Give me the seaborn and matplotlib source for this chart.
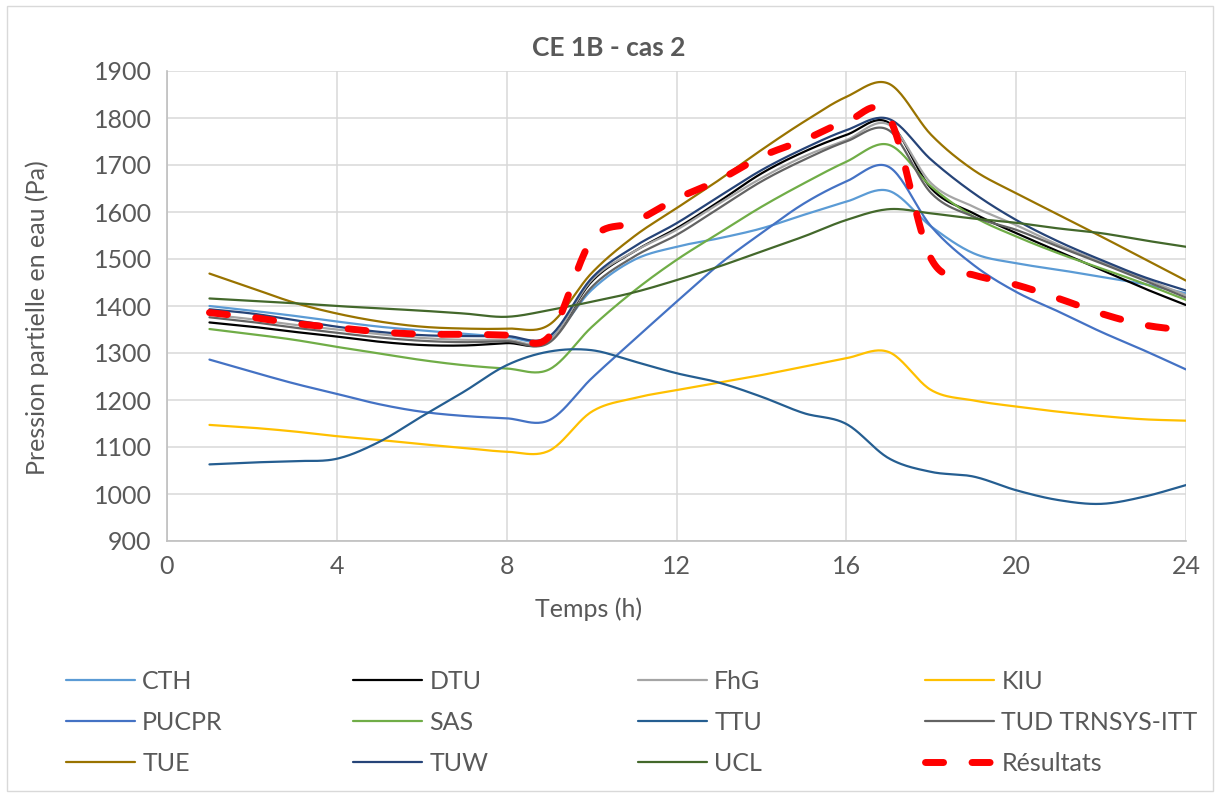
import numpy as np
import pandas as pd
import matplotlib
matplotlib.use("Agg")
import matplotlib.pyplot as plt
import seaborn as sns
from matplotlib.lines import Line2D
from matplotlib.patches import Rectangle

# hourly values (Pa)
hours = list(range(1, 25))

cth = [1400, 1390, 1379, 1367, 1356, 1348, 1341, 1334, 1330, 1434, 1498, 1526,
       1544, 1565, 1594, 1622, 1645, 1569, 1512, 1491, 1477, 1462, 1447, 1427]
dtu = [1365, 1356, 1345, 1335, 1324, 1317, 1316, 1321, 1325, 1452, 1516, 1565,
       1622, 1682, 1728, 1764, 1790, 1650, 1597, 1555, 1516, 1477, 1438, 1402]
fhg = [1382, 1372, 1360, 1350, 1340, 1332, 1328, 1328, 1326, 1455, 1516, 1562,
       1618, 1672, 1718, 1753, 1786, 1661, 1611, 1572, 1530, 1494, 1459, 1423]
kiu = [1147, 1141, 1133, 1123, 1115, 1106, 1098, 1090, 1092, 1175, 1204, 1221,
       1237, 1253, 1271, 1289, 1302, 1221, 1199, 1186, 1175, 1166, 1159, 1156]
pucpr = [1286, 1260, 1235, 1213, 1191, 1175, 1166, 1161, 1157, 1246, 1328, 1409,
         1488, 1555, 1618, 1665, 1696, 1569, 1487, 1430, 1388, 1345, 1306, 1265]
sas = [1351, 1340, 1328, 1313, 1299, 1285, 1274, 1267, 1265, 1355, 1432, 1498,
       1555, 1611, 1661, 1707, 1743, 1654, 1590, 1548, 1512, 1480, 1448, 1413]
ttu = [1063, 1067, 1070, 1075, 1111, 1165, 1218, 1274, 1303, 1306, 1282, 1257,
       1237, 1207, 1172, 1149, 1076, 1047, 1037, 1008, 987, 979, 994, 1019]
tud = [1376, 1366, 1354, 1343, 1333, 1326, 1323, 1325, 1322, 1440, 1505, 1551,
       1608, 1665, 1711, 1750, 1774, 1640, 1590, 1562, 1526, 1491, 1455, 1418]
tue = [1469, 1438, 1407, 1384, 1367, 1356, 1352, 1352, 1360, 1470, 1548, 1608,
       1668, 1732, 1792, 1845, 1873, 1764, 1689, 1640, 1594, 1548, 1501, 1454]
tuw = [1393, 1384, 1370, 1356, 1345, 1338, 1336, 1336, 1335, 1459, 1526, 1576,
       1633, 1689, 1735, 1774, 1798, 1711, 1640, 1583, 1537, 1498, 1462, 1433]
ucl = [1416, 1411, 1406, 1400, 1395, 1390, 1384, 1377, 1391, 1409, 1429, 1455,
       1484, 1516, 1548, 1583, 1606, 1597, 1586, 1577, 1565, 1555, 1540, 1526]
resultats = [1386, 1376, 1363, 1354, 1345, 1340, 1340, 1338, 1335, 1540, 1578, 1628,
             1668, 1718, 1753, 1792, 1802, 1500, 1466, 1445, 1416, 1384, 1360, 1348]

labels = ["CTH", "DTU", "FhG", "KIU", "PUCPR", "SAS", "TTU", "TUD TRNSYS-ITT",
          "TUE", "TUW", "UCL", "Résultats"]
series = [cth, dtu, fhg, kiu, pucpr, sas, ttu, tud, tue, tuw, ucl, resultats]
colors = ["#5B9BD5", "#000000", "#A5A5A5", "#FFC000", "#4472C4", "#70AD47",
          "#255E91", "#636363", "#997300", "#264478", "#43682B", "#FF0000"]


def smooth(x, y, n=24):
    # excel-like smoothed line (cubic hermite, central tangents)
    x = np.asarray(x, float)
    y = np.asarray(y, float)
    m = np.gradient(y, x)
    xs, ys = [], []
    for i in range(len(x) - 1):
        t = np.linspace(0, 1, n, endpoint=False)
        h = x[i + 1] - x[i]
        h00 = 2 * t**3 - 3 * t**2 + 1
        h10 = t**3 - 2 * t**2 + t
        h01 = -2 * t**3 + 3 * t**2
        h11 = t**3 - t**2
        xs.append(x[i] + t * h)
        ys.append(h00 * y[i] + h10 * h * m[i] + h01 * y[i + 1] + h11 * h * m[i + 1])
    xs.append([x[-1]])
    ys.append([y[-1]])
    return np.concatenate(xs), np.concatenate(ys)


sns.set_theme(style="white")
plt.rcParams['font.family'] = ['Lato', 'DejaVu Sans']
txt = "#595959"
red_dash = (2.6, 4.1)

W, H = 1217, 796
fig = plt.figure(figsize=(W / 100, H / 100), dpi=100)
ax = fig.add_axes([167 / W, 1 - 541 / H, (1186 - 167) / W, (541 - 71) / H])

for lab, vals, col in zip(labels, series, colors):
    xs, ys = smooth(hours, vals)
    df = pd.DataFrame({"Temps": xs, "Pression": ys})
    if lab == "Résultats":
        sns.lineplot(data=df, x="Temps", y="Pression", ax=ax, color=col, lw=5,
                     sort=False, estimator=None, zorder=5)
        ln = ax.lines[-1]
        ln.set_dashes(red_dash)
        ln.set_dash_capstyle("round")
    else:
        sns.lineplot(data=df, x="Temps", y="Pression", ax=ax, color=col, lw=1.6,
                     sort=False, estimator=None)

ax.set_xlim(0, 24)
ax.set_ylim(900, 1900)
ax.set_xticks(range(0, 25, 4))
ax.set_yticks(range(900, 1901, 100))
ax.grid(True, color="#D9D9D9", lw=1.1)
ax.set_axisbelow(True)
for s in ["top", "right"]:
    ax.spines[s].set_visible(False)
for s in ["left", "bottom"]:
    ax.spines[s].set_color("#BFBFBF")
    ax.spines[s].set_linewidth(1.2)
ax.tick_params(axis="both", length=0, labelsize=18, colors=txt)
ax.tick_params(axis="y", pad=11)
ax.tick_params(axis="x", pad=10)
ax.set_xlabel("")
ax.set_ylabel("")

fig.text(0.5, 1 - 48 / H, "CE 1B - cas 2", ha="center", va="center",
         fontsize=19, fontweight="bold", color=txt)
fig.text(37 / W, 1 - 318 / H, "Pression partielle en eau (Pa)", rotation=90,
         ha="center", va="center", fontsize=18, color=txt)
fig.text(589 / W, 1 - 609 / H, "Temps (h)", ha="center", va="center",
         fontsize=18, color=txt)

# legend, 4 columns of 3 rows, filled row by row
col_x = [66, 353, 638, 925]
for c in range(4):
    hs = []
    ls = []
    for r in range(3):
        k = r * 4 + c
        if labels[k] == "Résultats":
            h = Line2D([], [], color=colors[k], lw=5, dashes=red_dash,
                       dash_capstyle="round")
        else:
            h = Line2D([], [], color=colors[k], lw=1.6)
        hs.append(h)
        ls.append(labels[k])
    fig.legend(hs, ls, loc="upper left", bbox_to_anchor=(col_x[c] / W, 1 - 670 / H),
               frameon=False, fontsize=18, labelcolor=txt, borderpad=0,
               borderaxespad=0, handlelength=2.75, handletextpad=0.3,
               labelspacing=0.72)

fig.patches.append(Rectangle((7 / W, 5 / H), (1213 - 7) / W, (790 - 5) / H,
                             transform=fig.transFigure, fill=False,
                             edgecolor="#D9D9D9", lw=1))

fig.savefig("out.png", dpi=100)
